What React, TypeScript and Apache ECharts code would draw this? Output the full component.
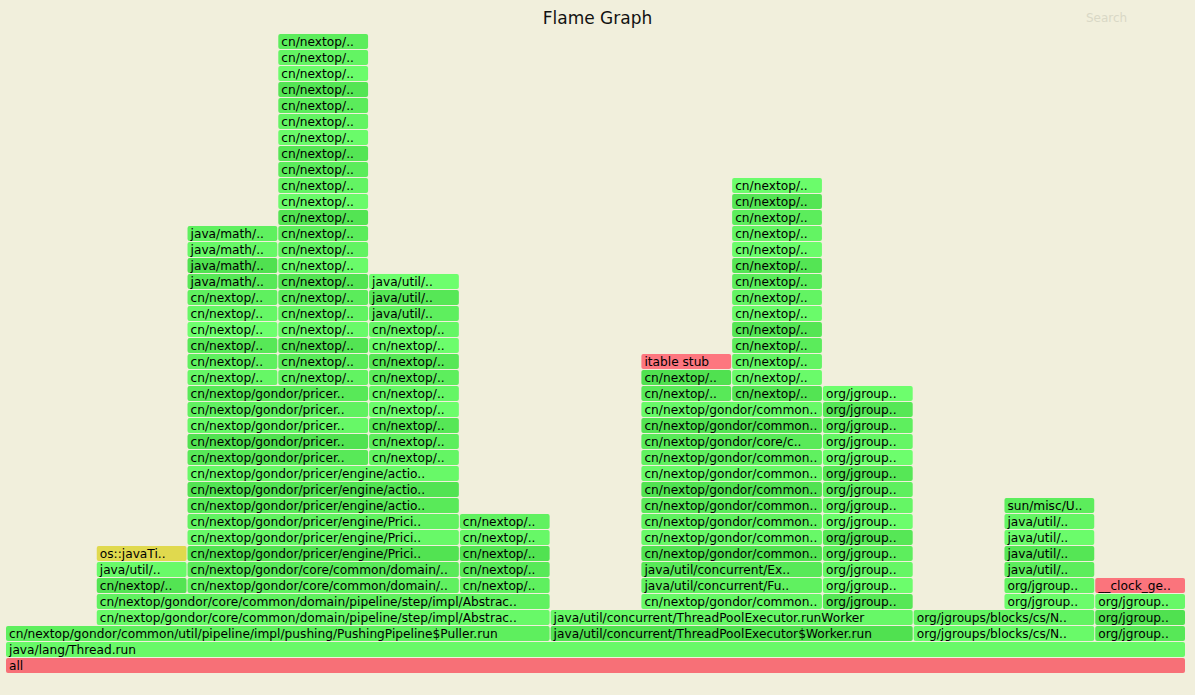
import React, { useEffect, useRef } from "react";
import * as echarts from "echarts";

// Total samples across the root frame
const totalSamples = 13;
const maxDepth = 40;

// Frame runs: [fromLevel, toLevel, startSample, endSample, name, kind]
// A run describes identical-width frames stacked from fromLevel to toLevel (inclusive).
const frameRuns: [number, number, number, number, string, string][] = [
  [0, 0, 0, 13, "all", "native"],
  [1, 1, 0, 13, "java/lang/Thread.run", "java"],
  [2, 2, 0, 6, "cn/nextop/gondor/common/util/pipeline/impl/pushing/PushingPipeline$Puller.run", "java"],
  [2, 2, 6, 10, "java/util/concurrent/ThreadPoolExecutor$Worker.run", "java"],
  [2, 3, 10, 12, "org/jgroups/blocks/cs/N..", "java"],
  [2, 4, 12, 13, "org/jgroup..", "java"],
  [3, 4, 1, 6, "cn/nextop/gondor/core/common/domain/pipeline/step/impl/Abstrac..", "java"],
  [3, 3, 6, 10, "java/util/concurrent/ThreadPoolExecutor.runWorker", "java"],
  [4, 4, 7, 9, "cn/nextop/gondor/common..", "java"],
  [4, 17, 9, 10, "org/jgroup..", "java"],
  [4, 5, 11, 12, "org/jgroup..", "java"],
  [5, 5, 1, 2, "cn/nextop/..", "java"],
  [5, 6, 2, 5, "cn/nextop/gondor/core/common/domain/..", "java"],
  [5, 9, 5, 6, "cn/nextop/..", "java"],
  [5, 5, 7, 9, "java/util/concurrent/Fu..", "java"],
  [5, 5, 12, 13, "__clock_ge..", "native"],
  [6, 6, 1, 2, "java/util/..", "java"],
  [6, 6, 7, 9, "java/util/concurrent/Ex..", "java"],
  [6, 9, 11, 12, "java/util/..", "java"],
  [7, 7, 1, 2, "os::javaTi..", "cpp"],
  [7, 9, 2, 5, "cn/nextop/gondor/pricer/engine/Prici..", "java"],
  [7, 13, 7, 9, "cn/nextop/gondor/common..", "java"],
  [10, 10, 11, 12, "sun/misc/U..", "java"],
  [10, 12, 2, 5, "cn/nextop/gondor/pricer/engine/actio..", "java"],
  [13, 17, 2, 4, "cn/nextop/gondor/pricer..", "java"],
  [13, 21, 4, 5, "cn/nextop/..", "java"],
  [14, 14, 7, 9, "cn/nextop/gondor/core/c..", "java"],
  [15, 16, 7, 9, "cn/nextop/gondor/common..", "java"],
  [17, 18, 7, 8, "cn/nextop/..", "java"],
  [17, 30, 8, 9, "cn/nextop/..", "java"],
  [18, 23, 2, 3, "cn/nextop/..", "java"],
  [18, 39, 3, 4, "cn/nextop/..", "java"],
  [19, 19, 7, 8, "itable stub", "native"],
  [22, 24, 4, 5, "java/util/..", "java"],
  [24, 27, 2, 3, "java/math/..", "java"],
];

type Frame = { level: number; start: number; end: number; name: string; kind: string };

const frames: Frame[] = [];
frameRuns.forEach(([l0, l1, s, e, name, kind]) => {
  for (let l = l0; l <= l1; l++) frames.push({ level: l, start: s, end: e, name, kind });
});

function shade(f: Frame): number {
  const h = (f.level * 73 + f.start * 151 + f.end * 29 + 17) % 97;
  return h / 97;
}

function frameColor(f: Frame): string {
  const v = shade(f);
  if (f.kind === "native") {
    const t = 0.7 + 0.3 * v;
    return `rgb(${Math.round(225 + 30 * t)},${Math.round(90 + 30 * t)},${Math.round(90 + 40 * t)})`;
  }
  if (f.kind === "cpp") {
    return `rgb(${Math.round(200 + 30 * 0.8)},${Math.round(200 + 30 * 0.55)},${Math.round(60 + 30 * 0.6)})`;
  }
  const c = Math.round(30 * v);
  return `rgb(${80 + c},${225 + c},${80 + c})`;
}

export default function App() {
  const ref = useRef<HTMLDivElement>(null);
  useEffect(() => {
    document.body.style.margin = "0";
    if (!ref.current) return;
    const chart = echarts.init(ref.current, undefined, { renderer: "svg" });
    const data = frames.map((f) => ({
      value: [f.level, f.start, f.end],
      itemStyle: { color: frameColor(f) },
    }));
    const renderItem = (params: any, api: any) => {
      const f = frames[params.dataIndex];
      const tl = api.coord([f.start, f.level + 1]);
      const br = api.coord([f.end, f.level]);
      const w = br[0] - tl[0] - 1;
      const h = br[1] - tl[1] - 1;
      return {
        type: "rect",
        shape: { x: tl[0], y: tl[1], width: w, height: h, r: 2 },
        style: { fill: api.visual("color") },
        textConfig: { position: "insideLeft", distance: 3 },
        textContent: {
          style: {
            text: f.name,
            fill: "#000",
            fontSize: 12.2,
            fontFamily: "DejaVu Sans",
            width: w - 4,
            overflow: "truncate",
            ellipsis: "..",
          },
        },
      };
    };
    chart.setOption({
      animation: false,
      backgroundColor: "#f1efdc",
      title: {
        text: "Flame Graph",
        left: "center",
        top: 4,
        textStyle: { fontFamily: "DejaVu Sans", fontWeight: "normal", fontSize: 17, color: "#111" },
      },
      graphic: [
        {
          type: "text",
          left: 1086,
          top: 12,
          style: { text: "Search", fontFamily: "DejaVu Sans", fontSize: 12, fill: "#d9d8c6" },
        },
      ],
      grid: { left: 6, right: 9, top: 34, bottom: 21 },
      xAxis: { type: "value", min: 0, max: totalSamples, show: false },
      yAxis: { type: "value", min: 0, max: maxDepth, show: false },
      series: [
        {
          type: "custom",
          renderItem,
          encode: { x: [1, 2], y: 0 },
          data,
        },
      ],
    });
    return () => chart.dispose();
  }, []);
  return <div ref={ref} style={{ width: 1195, height: 695 }} />;
}
